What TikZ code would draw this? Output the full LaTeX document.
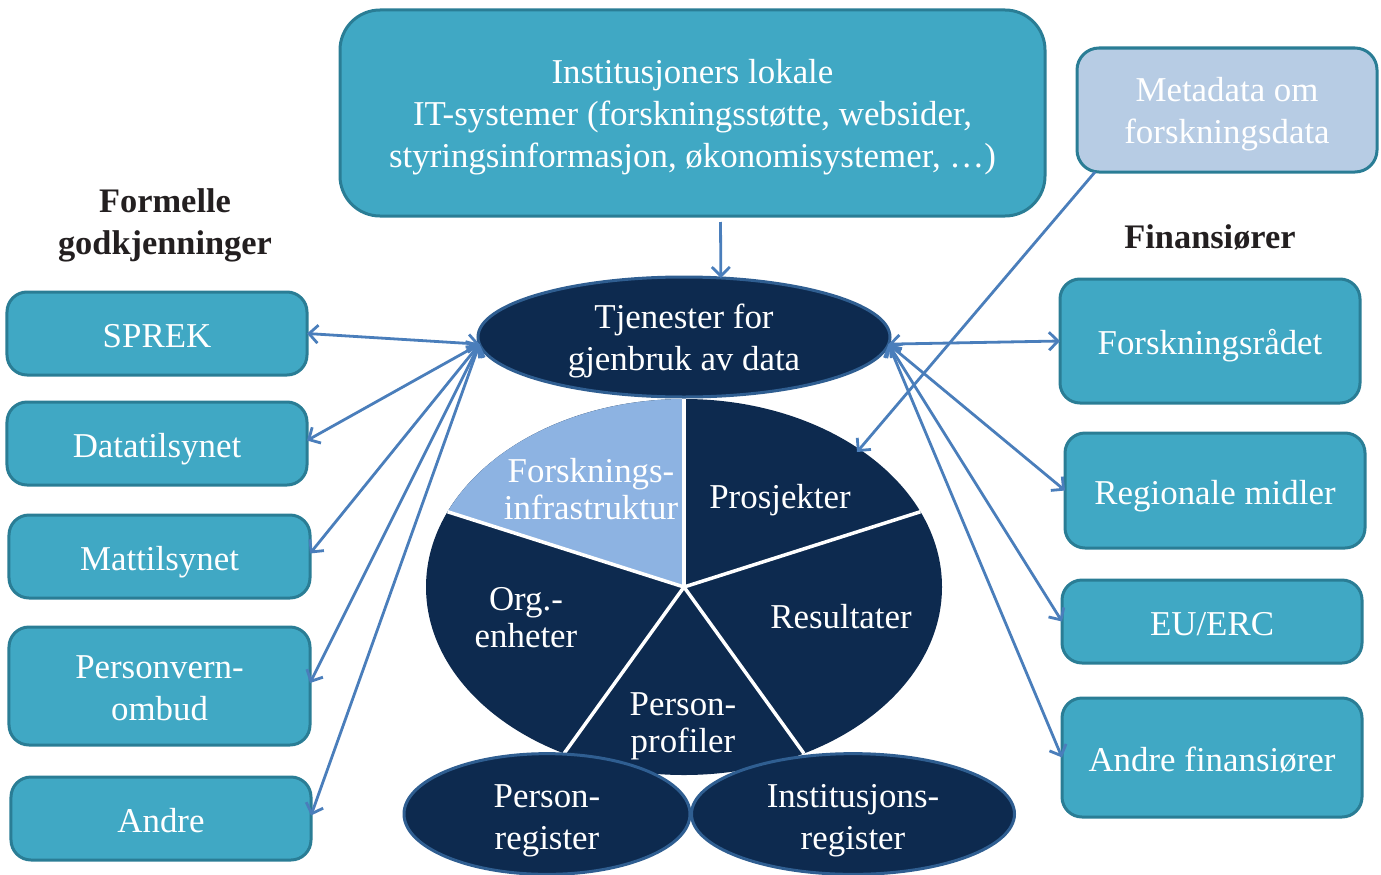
\documentclass[tikz,border=0pt]{standalone}
\usepackage{fontspec}
\setmainfont{Liberation Serif}
\usetikzlibrary{arrows.meta,shapes.geometric,calc}
\definecolor{tealfill}{HTML}{40A8C4}
\definecolor{tealline}{HTML}{2A7D95}
\definecolor{metafill}{HTML}{B7CCE4}
\definecolor{navy}{HTML}{0D2A4F}
\definecolor{navyline}{HTML}{2F5E91}
\definecolor{slicefill}{HTML}{8DB3E2}
\definecolor{arrowblue}{HTML}{4A7EBB}
\definecolor{titlecol}{HTML}{231F20}
\newcommand{\liftstrut}[1]{\rule{0pt}{#1}}
\begin{document}
\begin{tikzpicture}[x=1bp,y=-1bp,
  bigfont/.style={font=\fontsize{35}{42}\selectfont},
  box/.style={bigfont, draw=tealline, line width=3bp, fill=tealfill, rounded corners=20bp,
    text=white, align=center, inner sep=0pt, outer sep=0pt, minimum width=300bp},
  oneline/.style={text height=27bp, text depth=0pt},
  regell/.style={bigfont, ellipse, draw=navyline, line width=3bp, fill=navy, text=white,
    align=center, inner sep=0pt, outer sep=0pt},
  pielabel/.style={font=\fontsize{35}{37}\selectfont, text=white, align=center, inner sep=0pt},
  title/.style={font=\fontsize{34.5}{42}\selectfont\bfseries, text=titlecol, align=center, inner sep=0pt},
  conn/.style={draw=arrowblue, line width=2.8bp},
  both/.style={conn, {Straight Barb[length=9bp,width=18bp]}-{Straight Barb[length=9bp,width=18bp]}},
  single/.style={conn, -{Straight Barb[length=9bp,width=18bp]}}
]
\useasboundingbox (0,0) rectangle (1381,874);

% ---- pie ----
\coordinate (pc) at (684,587);
\fill[navy] (pc) ellipse [x radius=258, y radius=188];
\fill[slicefill] (pc) -- ($(pc)+(203.6:258 and 188)$)
   arc[start angle=203.6, end angle=270, x radius=258, y radius=188] -- cycle;
\foreach \a in {270,336.4,62.3,117.7,203.6}
  \draw[white, line width=3.5bp] (pc) -- ($(pc)+(\a:258 and 188)$);

\node[pielabel] (infra) at (591,489) {Forsknings-\\infrastruktur};
\node[pielabel] (prosj) at (780,500) {Prosjekter};
\node[pielabel] (org) at (526,618) {Org.-\\enheter};
\node[pielabel] (resul) at (841,617) {Resultater};
\node[pielabel] (pprof) at (683,726) {Person-\\profiler};
\coordinate (prosjtip) at (857,452);

% ---- central ellipse ----
\node[regell, minimum width=412bp, minimum height=120bp] (tj) at (684,337)
  {\liftstrut{33bp}Tjenester for\\gjenbruk av data};

% ---- bottom registers ----
\node[regell, minimum width=286bp, minimum height=118bp] (preg) at (547,814)
  {\liftstrut{36bp}Person-\\register};
\node[regell, minimum width=323bp, minimum height=118bp] (ireg) at (853,814)
  {\liftstrut{36bp}Institusjons-\\register};

% ---- top boxes ----
\node[box, rounded corners=40bp, minimum width=705bp, minimum height=206bp] (top) at (692.5,113)
  {\liftstrut{33bp}Institusjoners lokale\\IT-systemer (forskningsstøtte, websider,\\styringsinformasjon, økonomisystemer, …)};
\node[box, fill=metafill, rounded corners=22bp, minimum height=124bp] (meta) at (1227,110)
  {\liftstrut{33bp}Metadata om\\forskningsdata};

% ---- titles ----
\node[title] (tleft) at (165,225) {Formelle\\godkjenninger};
\node[title] (tright) at (1210,237) {Finansiører};

% ---- left boxes ----
\node[box, oneline, minimum height=83bp] (sprek) at (157,333.5) {SPREK};
\node[box, oneline, minimum height=83bp] (datat) at (157,443.5) {Datatilsynet};
\node[box, oneline, minimum width=301bp, minimum height=83bp] (matt) at (159.5,556.5) {Mattilsynet};
\node[box, minimum width=301bp, minimum height=118bp] (pvo) at (159.5,686)
  {\liftstrut{27bp}Personvern-\\ombud};
\node[box, oneline, minimum height=83bp] (andre) at (161,818.5) {Andre};

% ---- right boxes ----
\node[box, oneline, minimum height=124bp] (forsk) at (1210,341) {Forskningsrådet};
\node[box, oneline, minimum height=115bp] (regm) at (1215,490.5) {Regionale midler};
\node[box, oneline, minimum height=83bp] (eu) at (1212,621.5) {EU/ERC};
\node[box, oneline, minimum height=119bp] (andref) at (1212,757.5) {Andre finansiører};

% ---- connectors ----
\draw[single] ([xshift=28bp,yshift=-6bp]top.south) -- (tj.58.6);
\draw[single] ([xshift=18bp]meta.south west) -- (prosjtip);

\draw[both] (sprek.east) -- (tj.182);
\draw[both] ([yshift=3bp]datat.east) -- (tj.182);
\draw[both] ([yshift=3bp]matt.east) -- (tj.182);
\draw[both] ([yshift=3bp]pvo.east) -- (tj.182);
\draw[both] ([yshift=3bp]andre.east) -- (tj.182);

\draw[both] (tj.-2) -- (forsk.west);
\draw[both] (tj.-2) -- (regm.west);
\draw[both] (tj.-2) -- (eu.west);
\draw[both] (tj.-2) -- (andref.west);
\end{tikzpicture}
\end{document}
